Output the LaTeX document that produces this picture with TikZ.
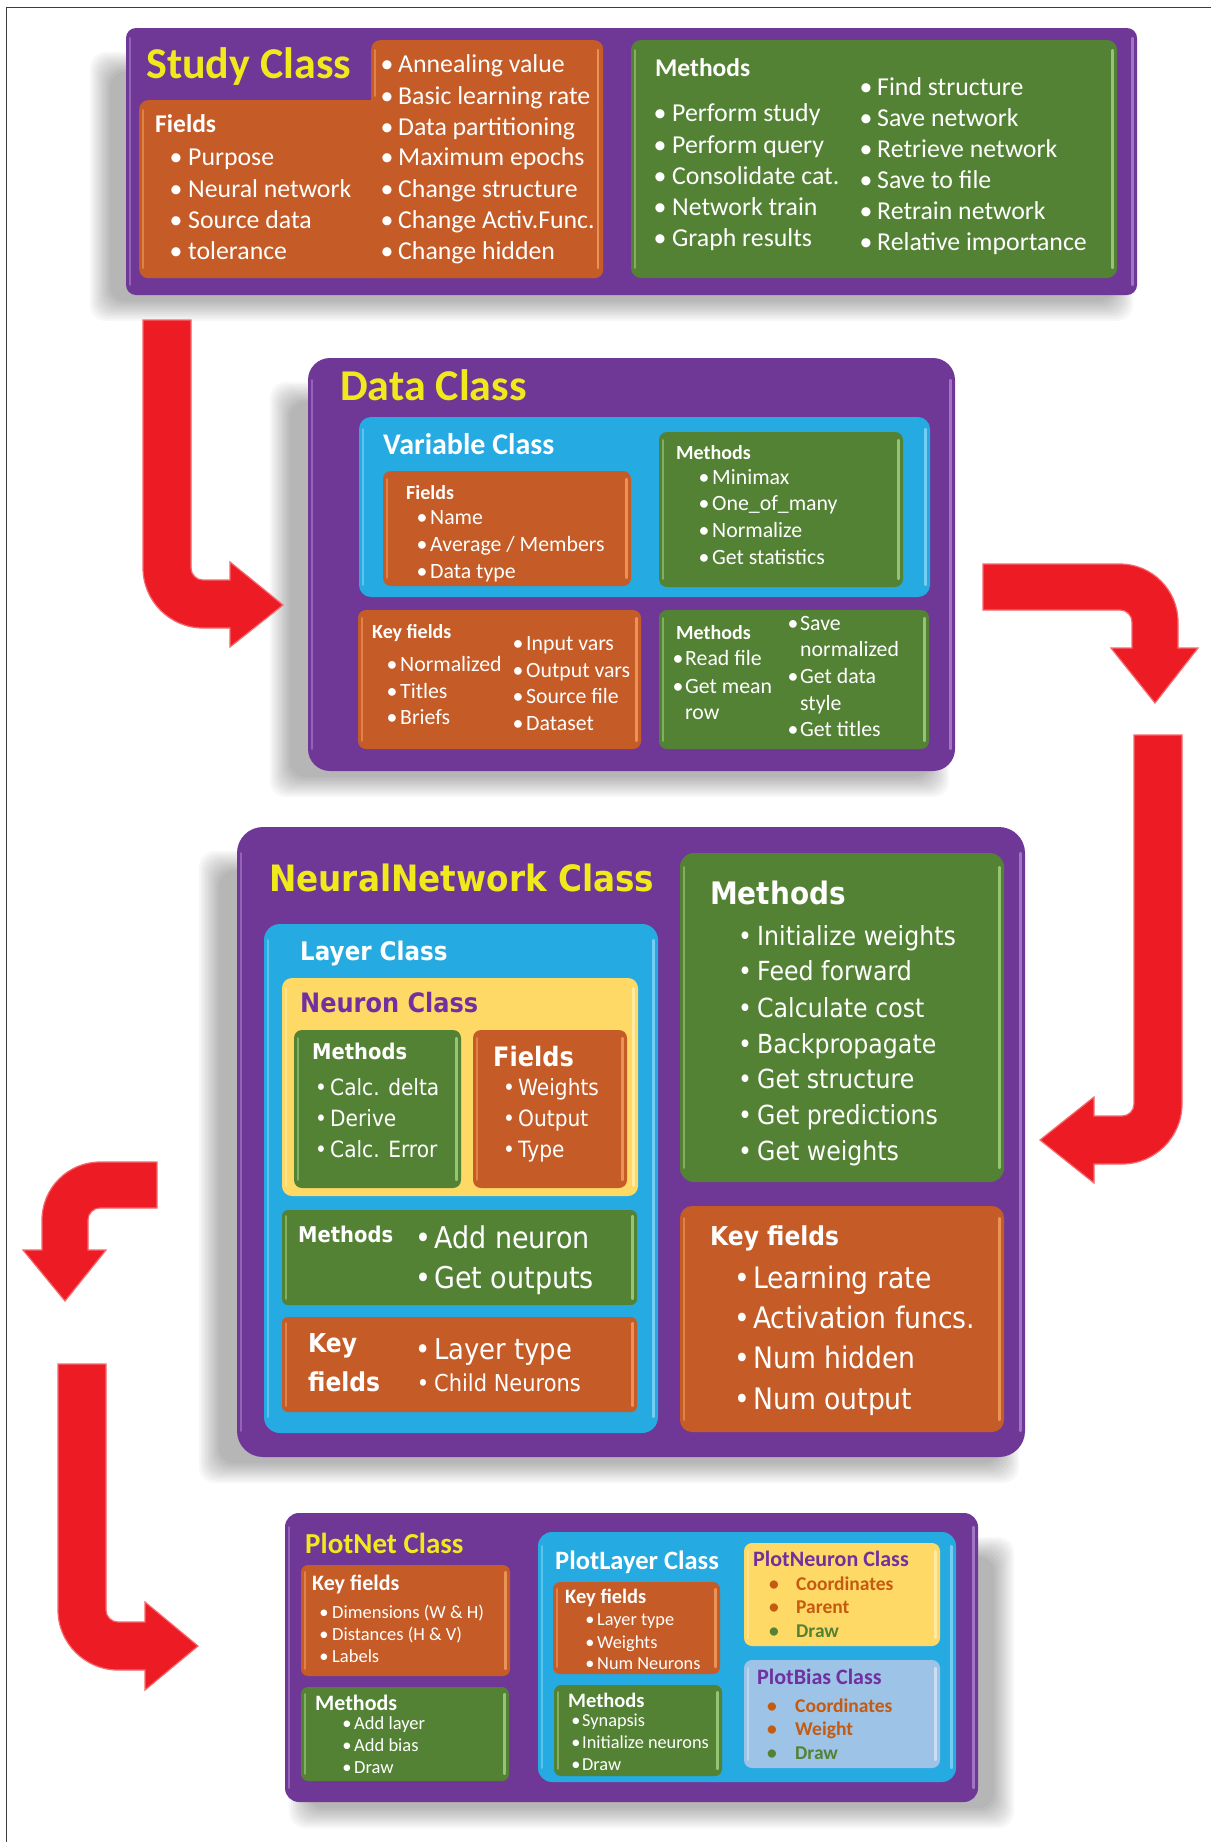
\documentclass[tikz,border=0pt]{standalone}
\usepackage{fontspec}
\setmainfont{Carlito}
\newfontfamily\nnfont[FakeStretch=0.9]{DejaVu Sans}
\definecolor{cpurple}{RGB}{112,56,150}
\definecolor{cpurplehi}{RGB}{170,128,205}
\definecolor{corange}{RGB}{197,91,38}
\definecolor{corangehi}{RGB}{242,156,96}
\definecolor{cgreen}{RGB}{84,130,53}
\definecolor{cgreenhi}{RGB}{160,208,128}
\definecolor{cblue}{RGB}{38,170,226}
\definecolor{cbluehi}{RGB}{130,212,245}
\definecolor{cybox}{RGB}{255,217,102}
\definecolor{cyboxhi}{RGB}{255,238,170}
\definecolor{cbias}{RGB}{157,195,230}
\definecolor{cbiashi}{RGB}{210,228,246}
\definecolor{ctitle}{RGB}{240,234,28}
\definecolor{cred}{RGB}{237,28,36}
\definecolor{credhi}{RGB}{245,105,110}
\definecolor{cntext}{RGB}{112,48,160}
\definecolor{cframe}{RGB}{60,60,60}
\definecolor{ctorange}{RGB}{197,90,17}

\newcommand\fs[1]{\fontsize{#1}{#1}\selectfont}
\newcounter{nd}
\newcommand\tx[4][white]{\stepcounter{nd}\node[lbl,text=#1] (t\arabic{nd}) at (#2,#3) {#4};}
\newcommand\bul[5][white]{\stepcounter{nd}\node[blt,text=#1] (b\arabic{nd}) at (#2,#4) {\textbullet};\node[lbl,text=#1] (t\arabic{nd}) at (#3,#4) {#5};}
% box: name fill hi x1 y1 x2 y2 radius
\newcommand\bx[8]{%
  \node[fill=#2, rounded corners=#8pt, inner sep=0pt, outer sep=0pt, anchor=north west,
        minimum width={#6-#4}, minimum height={#7-#5}] (#1) at (#4,#5) {};
  \draw[#3, line width=2.2pt, line cap=round, opacity=0.85]
     ([xshift=-4.5pt,yshift=-#8pt]#1.north east) -- ([xshift=-4.5pt,yshift=#8pt]#1.south east);
  \draw[#3, line width=1.6pt, line cap=round, opacity=0.6]
     ([xshift=4pt,yshift=-#8pt]#1.north west) -- ([xshift=4pt,yshift=#8pt]#1.south west);
}
\newcommand\shad[5]{%
  \foreach \k in {0,...,9}{%
    \fill[black, opacity=0.032, rounded corners=16pt]
      (#1-16+\k*2.2+#5, #2+24+\k*2.2) rectangle (#3+16-\k*2.2+#5, #4+26-\k*2.2);
  }}

\begin{document}
\begin{tikzpicture}[x=1pt,y=-1pt,
  lf/.style={font=\fs{25}},
  lbl/.style={anchor=base west, inner sep=0pt, lf},
  blt/.style={anchor=base, inner sep=0pt, lf},
  redarrow/.style={fill=cred, draw=credhi, line width=1.2pt, line join=miter}]
\useasboundingbox (0,0) rectangle (1211,1842);
\fill[white] (0,0) rectangle (1211,1842);
\draw[cframe, line width=1.6pt] (6.5,1842) -- (6.5,7.5) -- (1211,7.5);

% ---------------- Study Class ----------------
\shad{126}{28}{1137}{295}{-20}
\bx{study}{cpurple}{cpurplehi}{126}{28}{1137}{295}{10}
\node[fill=corange, rounded corners=9pt, inner sep=0pt, anchor=north west, minimum width=464, minimum height=178] (sfields) at (139,100) {};
\node[fill=corange, rounded corners=9pt, inner sep=0pt, anchor=north west, minimum width=232, minimum height=238] (sfields2) at (371,40) {};
\draw[corangehi, line width=1.6pt, line cap=round, opacity=0.6] (143,110) -- (143,268);
\draw[corangehi, line width=1.6pt, line cap=round, opacity=0.6] (375,50) -- (375,96);
\draw[corangehi, line width=2.2pt, line cap=round, opacity=0.85] (598,50) -- (598,268);
\bx{smeth}{cgreen}{cgreenhi}{631}{40}{1117}{278}{10}

\tikzset{lf/.style={font=\fs{44}\bfseries}}
\tx[ctitle]{146}{78}{Study Class}
\tikzset{lf/.style={font=\fs{25.5}\bfseries}}
\tx{155}{132}{Fields}
\tx{655}{76}{Methods}
\tikzset{lf/.style={font=\fs{25.8}}}
\bul{176}{188}{165}{Purpose}
\bul{176}{188}{197}{Neural network}
\bul{176}{188}{228}{Source data}
\bul{176}{188}{259}{tolerance}
\bul{387}{398}{72}{Annealing value}
\bul{387}{398}{104}{Basic learning rate}
\bul{387}{398}{135}{Data partitioning}
\bul{387}{398}{165}{Maximum epochs}
\bul{387}{398}{197}{Change structure}
\bul{387}{398}{228}{Change Activ.Func.}
\bul{387}{398}{259}{Change hidden}
\bul{660}{672}{121}{Perform study}
\bul{660}{672}{153}{Perform query}
\bul{660}{672}{184}{Consolidate cat.}
\bul{660}{672}{215}{Network train}
\bul{660}{672}{246}{Graph results}
\bul{866}{877}{95}{Find structure}
\bul{866}{877}{126}{Save network}
\bul{866}{877}{157}{Retrieve network}
\bul{866}{877}{188}{Save to file}
\bul{866}{877}{219}{Retrain network}
\bul{866}{877}{250}{Relative importance}

% ---------------- Data Class ----------------
\shad{308}{358}{955}{771}{-22}
\bx{data}{cpurple}{cpurplehi}{308}{358}{955}{771}{22}
\bx{var}{cblue}{cbluehi}{359}{417}{930}{597}{12}
\bx{varf}{corange}{corangehi}{383}{471}{631}{586}{8}
\bx{varm}{cgreen}{cgreenhi}{659}{432}{903}{587}{8}
\bx{dkey}{corange}{corangehi}{358}{610}{641}{749}{8}
\bx{dmeth}{cgreen}{cgreenhi}{659}{610}{929}{749}{8}

\tikzset{lf/.style={font=\fs{44}\bfseries}}
\tx[ctitle]{340}{400}{Data Class}
\tikzset{lf/.style={font=\fs{30}\bfseries}}
\tx{383}{454}{Variable Class}
\tikzset{lf/.style={font=\fs{20}\bfseries}}
\tx{406}{499}{Fields}
\tx{676}{459}{Methods}
\tx{372}{638}{Key fields}
\tx{676}{639}{Methods}
\tikzset{lf/.style={font=\fs{21.8}}}
\bul{422}{430}{524}{Name}
\bul{422}{430}{551}{Average / Members}
\bul{422}{430}{578}{Data type}
\bul{704}{712}{484}{Minimax}
\bul{704}{712}{510}{One\_of\_many}
\bul{704}{712}{537}{Normalize}
\bul{704}{712}{564}{Get statistics}
\bul{392}{400}{671}{Normalized}
\bul{392}{400}{698}{Titles}
\bul{392}{400}{724}{Briefs}
\bul{518}{526}{650}{Input vars}
\bul{518}{526}{677}{Output vars}
\bul{518}{526}{703}{Source file}
\bul{518}{526}{730}{Dataset}
\bul{678}{685}{665}{Read file}
\bul{678}{685}{693}{Get mean}
\tx{685}{719}{row}
\bul{793}{800}{630}{Save}
\tx{800}{656}{normalized}
\bul{793}{800}{683}{Get data}
\tx{800}{710}{style}
\bul{793}{800}{736}{Get titles}

% ---------------- NeuralNetwork Class ----------------
\shad{237}{827}{1025}{1457}{-22}
\bx{nn}{cpurple}{cpurplehi}{237}{827}{1025}{1457}{26}
\bx{layer}{cblue}{cbluehi}{264}{924}{658}{1433}{16}
\bx{neuron}{cybox}{cyboxhi}{282}{978}{638}{1196}{10}
\bx{nmeth}{cgreen}{cgreenhi}{294}{1030}{461}{1188}{8}
\bx{nfield}{corange}{corangehi}{473}{1030}{627}{1188}{8}
\bx{lmeth}{cgreen}{cgreenhi}{282}{1210}{637}{1305}{6}
\bx{lkey}{corange}{corangehi}{282}{1317}{637}{1412}{6}
\bx{nnmeth}{cgreen}{cgreenhi}{680}{853}{1004}{1182}{14}
\bx{nnkey}{corange}{corangehi}{680}{1206}{1004}{1432}{12}

\tikzset{lf/.style={font=\nnfont\fs{36.3}\bfseries}}
\tx[ctitle]{269}{891}{NeuralNetwork Class}
\tikzset{lf/.style={font=\nnfont\fs{25.6}\bfseries}}
\tx{300}{960}{Layer Class}
\tikzset{lf/.style={font=\nnfont\fs{26.7}\bfseries}}
\tx[cntext]{300}{1012}{Neuron Class}
\tx{493}{1066}{Fields}
\tikzset{lf/.style={font=\nnfont\fs{21.7}\bfseries}}
\tx{312}{1059}{Methods}
\tx{298}{1242}{Methods}
\tikzset{lf/.style={font=\nnfont\fs{22.4}}}
\bul{321}{330}{1095}{Calc. delta}
\bul{321}{330}{1126}{Derive}
\bul{321}{330}{1157}{Calc. Error}
\bul{509}{518}{1095}{Weights}
\bul{509}{518}{1126}{Output}
\bul{509}{518}{1157}{Type}
\tikzset{lf/.style={font=\nnfont\fs{30}}}
\bul{423}{434}{1248}{Add neuron}
\bul{423}{434}{1288}{Get outputs}
\tikzset{lf/.style={font=\nnfont\fs{26}\bfseries}}
\tx{308}{1352}{Key}
\tx{308}{1391}{fields}
\tikzset{lf/.style={font=\nnfont\fs{28.7}}}
\bul{423}{434}{1359}{Layer type}
\tikzset{lf/.style={font=\nnfont\fs{23.3}}}
\bul{423}{434}{1391}{Child Neurons}
\tikzset{lf/.style={font=\nnfont\fs{31}\bfseries}}
\tx{710}{904}{Methods}
\tikzset{lf/.style={font=\nnfont\fs{26.3}}}
\bul{745}{757}{945}{Initialize weights}
\bul{745}{757}{980}{Feed forward}
\bul{745}{757}{1017}{Calculate cost}
\bul{745}{757}{1053}{Backpropagate}
\bul{745}{757}{1088}{Get structure}
\bul{745}{757}{1124}{Get predictions}
\bul{745}{757}{1160}{Get weights}
\tikzset{lf/.style={font=\nnfont\fs{26}\bfseries}}
\tx{710}{1245}{Key fields}
\tikzset{lf/.style={font=\nnfont\fs{29.6}}}
\bul{742}{753}{1288}{Learning rate}
\bul{742}{753}{1328}{Activation funcs.}
\bul{742}{753}{1368}{Num hidden}
\bul{742}{753}{1409}{Num output}

% ---------------- PlotNet Class ----------------
\shad{285}{1513}{978}{1802}{20}
\bx{pn}{cpurple}{cpurplehi}{285}{1513}{978}{1802}{14}
\bx{pnkey}{corange}{corangehi}{301}{1565}{510}{1676}{7}
\bx{pnmeth}{cgreen}{cgreenhi}{301}{1687}{509}{1781}{7}
\bx{pl}{cblue}{cbluehi}{538}{1532}{956}{1782}{14}
\bx{plkey}{corange}{corangehi}{553}{1582}{720}{1674}{7}
\bx{plmeth}{cgreen}{cgreenhi}{554}{1685}{722}{1776}{7}
\bx{pneu}{cybox}{cyboxhi}{744}{1543}{940}{1646}{8}
\bx{pbias}{cbias}{cbiashi}{744}{1660}{940}{1768}{8}

\tikzset{lf/.style={font=\fs{29}\bfseries}}
\tx[ctitle]{305}{1553}{PlotNet Class}
\tikzset{lf/.style={font=\fs{22}\bfseries}}
\tx{312}{1590}{Key fields}
\tx{315}{1710}{Methods}
\tx[cntext]{753}{1566}{PlotNeuron Class}
\tx[cntext]{757}{1684}{PlotBias Class}
\tikzset{lf/.style={font=\fs{18.5}}}
\bul{324}{332}{1618}{Dimensions (W \& H)}
\bul{324}{332}{1640}{Distances (H \& V)}
\bul{324}{332}{1662}{Labels}
\bul{347}{354}{1729}{Add layer}
\bul{347}{354}{1751}{Add bias}
\bul{347}{354}{1773}{Draw}
\tikzset{lf/.style={font=\fs{26.5}\bfseries}}
\tx{555}{1569}{PlotLayer Class}
\tikzset{lf/.style={font=\fs{20.5}\bfseries}}
\tx{565}{1603}{Key fields}
\tx{568}{1707}{Methods}
\tikzset{lf/.style={font=\fs{18.3}}}
\bul{590}{597}{1625}{Layer type}
\bul{590}{597}{1648}{Weights}
\bul{590}{597}{1669}{Num Neurons}
\bul{576}{582}{1726}{Synapsis}
\bul{576}{582}{1748}{Initialize neurons}
\bul{576}{582}{1770}{Draw}
\tikzset{lf/.style={font=\fs{19.5}\bfseries}}
\bul[ctorange]{774}{796}{1590}{Coordinates}
\bul[ctorange]{774}{796}{1613}{Parent}
\bul[cgreen]{774}{796}{1637}{Draw}
\bul[ctorange]{772}{795}{1712}{Coordinates}
\bul[ctorange]{772}{795}{1735}{Weight}
\bul[cgreen]{772}{795}{1759}{Draw}

% ---------------- Red arrows ----------------
\path[redarrow] (143,320) -- (143,568) .. controls (143,601) and (170,628) .. (203,628) -- (230,628) -- (230,647) -- (283,605) -- (230,562) -- (230,580) -- (203,580) .. controls (196.4,580) and (191,574.6) .. (191,568) -- (191,320) -- cycle;
\path[redarrow] (983,564) -- (1120,564) .. controls (1152,564) and (1178,590) .. (1178,622) -- (1178,648) -- (1198,648) -- (1155,703) -- (1111,648) -- (1132,648) -- (1132,622) .. controls (1132,615.4) and (1126.6,610) .. (1120,610) -- (983,610) -- cycle;
\path[redarrow] (1134,735) -- (1182,735) -- (1182,1104) .. controls (1182,1137) and (1155,1164) .. (1122,1164) -- (1094,1164) -- (1094,1183) -- (1040,1140) -- (1094,1097) -- (1094,1116) -- (1122,1116) .. controls (1128.6,1116) and (1134,1110.6) .. (1134,1104) -- cycle;
\path[redarrow] (157,1162) -- (100,1162) .. controls (68,1162) and (42,1188) .. (42,1220) -- (42,1250) -- (23,1250) -- (65,1301) -- (106,1250) -- (88,1250) -- (88,1220) .. controls (88,1213.4) and (93.4,1208) .. (100,1208) -- (157,1208) -- cycle;
\path[redarrow] (58,1364) -- (58,1610) .. controls (58,1643) and (85,1670) .. (118,1670) -- (145,1670) -- (145,1690) -- (198,1646) -- (145,1602) -- (145,1622) -- (118,1622) .. controls (111.4,1622) and (106,1616.6) .. (106,1610) -- (106,1364) -- cycle;
\end{tikzpicture}
\end{document}
